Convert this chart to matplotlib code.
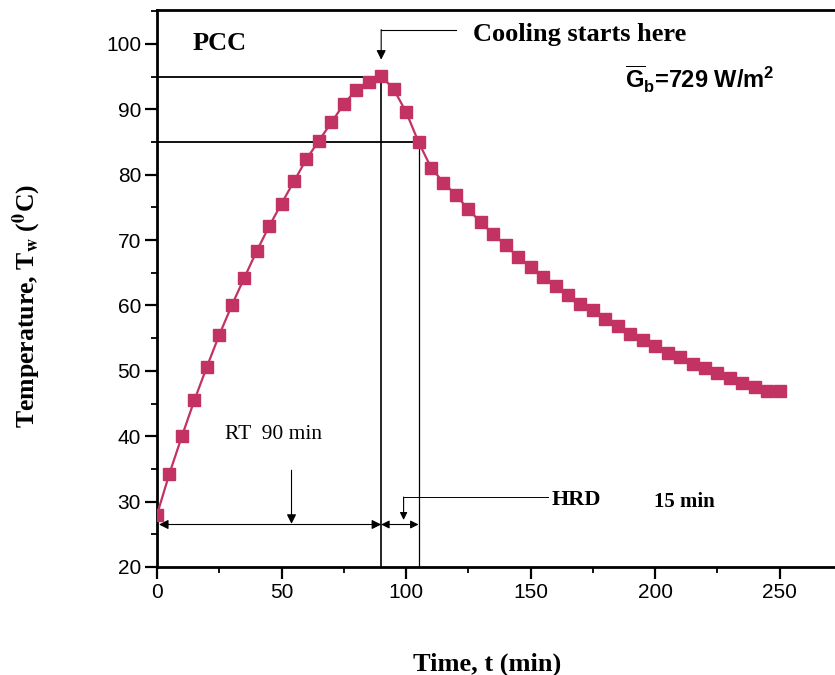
import matplotlib
matplotlib.use('Agg')
import matplotlib.pyplot as plt
from matplotlib.ticker import MultipleLocator

# Data (time in min, water temperature in C)
time_min = [0, 5, 10, 15, 20, 25, 30, 35, 40, 45, 50, 55, 60, 65, 70, 75, 80, 85, 90,
            95, 100, 105, 110, 115, 120, 125, 130, 135, 140, 145, 150, 155, 160, 165,
            170, 175, 180, 185, 190, 195, 200, 205, 210, 215, 220, 225, 230, 235, 240,
            245, 250]
temp_w = [28.0, 34.3, 40.0, 45.5, 50.6, 55.5, 60.0, 64.2, 68.3, 72.1, 75.6, 79.0, 82.4,
          85.2, 88.0, 90.8, 93.0, 94.2, 95.1,
          93.1, 89.6, 85.0, 81.1, 78.8, 76.9, 74.7, 72.7, 70.9, 69.2, 67.4, 65.9, 64.4,
          63.0, 61.6, 60.3, 59.3, 58.0, 56.9, 55.7, 54.7, 53.8, 52.8, 52.1, 51.1, 50.4,
          49.6, 48.9, 48.2, 47.6, 46.9, 46.9]

# Reference markers
peak_t, peak_T = 90, 95
hrd_t, hrd_T = 105, 85

plt.rcParams['mathtext.fontset'] = 'custom'
plt.rcParams['mathtext.rm'] = 'Liberation Sans'
plt.rcParams['mathtext.bf'] = 'Liberation Sans:bold'

serif = 'Liberation Serif'
sans = 'Liberation Sans'
col = '#c23262'

fig = plt.figure(figsize=(8.35, 6.75), dpi=100)
ax = fig.add_axes([157 / 835, 1 - 567 / 675, 685 / 835, (567 - 10) / 675])

ax.plot(time_min, temp_w, color=col, lw=1.6, marker='s', markersize=9.2,
        markerfacecolor=col, markeredgecolor=col, zorder=3)

# Guide lines
ax.plot([0, peak_t], [peak_T, peak_T], color='black', lw=1.3, zorder=2)
ax.plot([0, hrd_t], [hrd_T, hrd_T], color='black', lw=1.3, zorder=2)
ax.plot([peak_t, peak_t], [20, peak_T], color='black', lw=1.2, zorder=2)
ax.plot([hrd_t, hrd_t], [20, hrd_T], color='black', lw=0.9, zorder=2)

# Cooling starts here arrow
ax.plot([peak_t, 120], [102.2, 102.2], color='black', lw=0.8)
ax.annotate('', xy=(peak_t, 97.6), xytext=(peak_t, 102.2),
            arrowprops=dict(arrowstyle='-|>', color='black', lw=0.8,
                            mutation_scale=14, shrinkA=0, shrinkB=0))
ax.text(127, 101.4, 'Cooling starts here', family=serif, fontweight='bold',
        fontsize=19, va='center', ha='left')

# RT double arrow
ax.annotate('', xy=(0.8, 26.5), xytext=(peak_t, 26.5),
            arrowprops=dict(arrowstyle='<|-|>', color='black', lw=0.8,
                            mutation_scale=14, shrinkA=0, shrinkB=0))
ax.annotate('', xy=(54, 26.6), xytext=(54, 34.8),
            arrowprops=dict(arrowstyle='-|>', color='black', lw=0.8,
                            mutation_scale=14, shrinkA=0, shrinkB=0))
ax.text(27.3, 40.2, 'RT  90 min', family=serif, fontsize=15.5, va='center', ha='left')

# HRD double arrow
ax.annotate('', xy=(peak_t, 26.5), xytext=(hrd_t, 26.5),
            arrowprops=dict(arrowstyle='<|-|>', color='black', lw=0.8,
                            mutation_scale=12, shrinkA=0, shrinkB=0))
ax.plot([99, 157], [30.7, 30.7], color='black', lw=0.7)
ax.annotate('', xy=(99, 27.2), xytext=(99, 30.7),
            arrowprops=dict(arrowstyle='-|>', color='black', lw=0.8,
                            mutation_scale=11, shrinkA=0, shrinkB=0))
ax.text(158.5, 30.3, 'HRD', family=serif, fontweight='bold', fontsize=16,
        va='center', ha='left')
ax.text(199.5, 30.0, '15 min', family=serif, fontweight='bold', fontsize=15,
        va='center', ha='left')

ax.text(14.2, 100.1, 'PCC', family=serif, fontweight='bold', fontsize=19,
        va='center', ha='left')
ax.text(188, 94.5, r'$\overline{\mathbf{G}}_{\mathbf{b}}$=729 W/m$^{\mathbf{2}}$',
        family=sans, fontweight='bold', fontsize=17, va='center', ha='left')

ax.set_xlim(0, 275)
ax.set_ylim(20, 105.2)
ax.xaxis.set_major_locator(MultipleLocator(50))
ax.xaxis.set_minor_locator(MultipleLocator(25))
ax.yaxis.set_major_locator(MultipleLocator(10))
ax.yaxis.set_minor_locator(MultipleLocator(5))
ax.tick_params(which='major', direction='out', length=8.5, width=1.6,
               labelsize=15, pad=3)
ax.tick_params(which='minor', direction='out', length=4.5, width=1.3)
for lab in ax.get_xticklabels() + ax.get_yticklabels():
    lab.set_family(sans)
for s in ax.spines.values():
    s.set_linewidth(2)

ax.set_xlabel('Time, t (min)', family=serif, fontweight='bold', fontsize=19)
ax.set_ylabel(r'Temperature, T$_\mathbf{w}$ ($^\mathbf{0}$C)', family=serif,
              fontweight='bold', fontsize=18.5, math_fontfamily='stix')
ax.xaxis.label.set(va='center', ha='center')
ax.yaxis.label.set(va='center', ha='center')
ax.xaxis.set_label_coords(0.482, -0.174)
ax.yaxis.set_label_coords(-0.19, 0.469)

fig.savefig('out.png', dpi=100)
